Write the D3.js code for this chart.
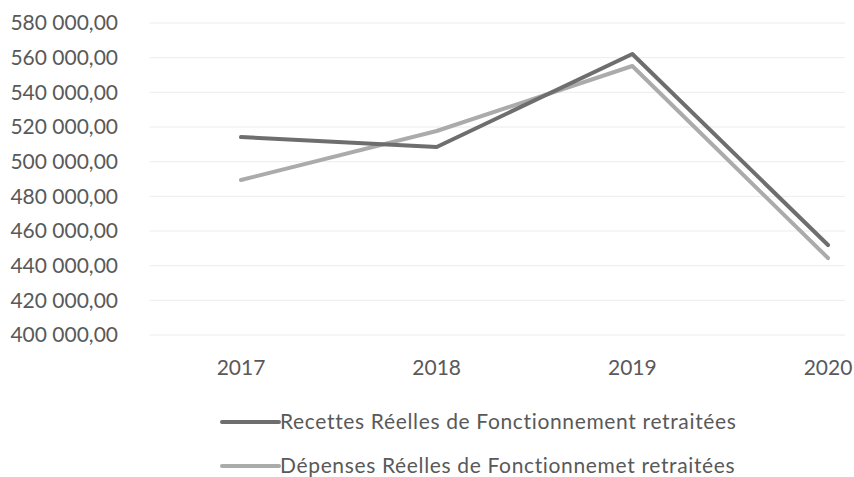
<!DOCTYPE html>
<html>
<head>
<meta charset="utf-8">
<script src="https://cdn.jsdelivr.net/npm/d3@7"></script>
<style>
    body { margin: 0; background: #fff; }
    text { font-family: Lato, "Open Sans", sans-serif; }
</style>
</head>
<body>
<div id="chart"></div>
<script>
// Values (2017-2020)
const years = ["2017", "2018", "2019", "2020"];
const recettes = [514200, 508500, 562100, 451900];
const depenses = [489400, 517700, 555200, 444400];
const yTicks = [400000, 420000, 440000, 460000, 480000, 500000, 520000, 540000, 560000, 580000];
const seriesNames = [
    "Recettes Réelles de Fonctionnement retraitées",
    "Dépenses Réelles de Fonctionnemet retraitées"
];

const width = 854, height = 477;

const svg = d3.select("#chart")
    .append("svg")
    .attr("width", width)
    .attr("height", height);

// French number format: "580 000,00"
const fr = d3.formatLocale({ decimal: ",", thousands: " ", grouping: [3], currency: ["", " €"] });
const fmt = fr.format(",.2f");

const x = d3.scalePoint()
    .domain(years)
    .range([241, 828]);

const y = d3.scaleLinear()
    .domain([400000, 580000])
    .range([335, 23]);

// Gridlines
svg.append("g")
    .selectAll("line")
    .data(yTicks)
    .enter()
    .append("line")
    .attr("x1", 150)
    .attr("x2", 845)
    .attr("y1", d => y(d))
    .attr("y2", d => y(d))
    .attr("stroke", "#ececec")
    .attr("stroke-width", 1);

// Y axis labels
svg.append("g")
    .selectAll("text")
    .data(yTicks)
    .enter()
    .append("text")
    .attr("x", 118)
    .attr("y", d => y(d))
    .attr("dy", "0.35em")
    .attr("text-anchor", "end")
    .attr("fill", "#595959")
    .style("font-size", "21px")
    .text(d => fmt(d));

// X axis labels
svg.append("g")
    .selectAll("text")
    .data(years)
    .enter()
    .append("text")
    .attr("x", d => x(d))
    .attr("y", 368)
    .attr("dy", "0.35em")
    .attr("text-anchor", "middle")
    .attr("fill", "#595959")
    .style("font-size", "21px")
    .text(d => d);

const series = [
    { name: seriesNames[0], values: recettes, color: "#6e6e6e" },
    { name: seriesNames[1], values: depenses, color: "#ababab" }
];

const line = d3.line()
    .x((d, i) => x(years[i]))
    .y(d => y(d));

// Lighter series underneath, darker on top
svg.selectAll(".series")
    .data(series.slice().reverse())
    .enter()
    .append("path")
    .attr("class", "series")
    .attr("d", d => line(d.values))
    .attr("fill", "none")
    .attr("stroke", d => d.color)
    .attr("stroke-width", 4)
    .attr("stroke-linecap", "round")
    .attr("stroke-linejoin", "round");

// Legend
const legend = svg.append("g")
    .selectAll("g")
    .data(series)
    .enter()
    .append("g")
    .attr("transform", (d, i) => `translate(222,${422 + i * 44})`);

legend.append("line")
    .attr("x1", 0)
    .attr("x2", 57)
    .attr("stroke", d => d.color)
    .attr("stroke-width", 4)
    .attr("stroke-linecap", "round");

legend.append("text")
    .attr("x", 58)
    .attr("dy", "0.35em")
    .attr("fill", "#595959")
    .style("font-size", "21px")
    .style("letter-spacing", "0.65px")
    .text(d => d.name);
</script>
</body>
</html>
